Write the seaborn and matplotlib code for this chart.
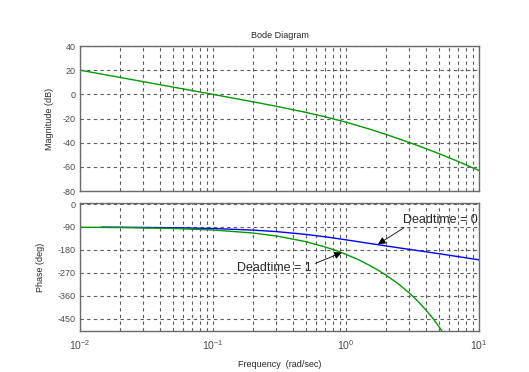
import numpy as np
import pandas as pd
import matplotlib
matplotlib.use("Agg")
import matplotlib.pyplot as plt
import seaborn as sns
from matplotlib.ticker import LogLocator, FixedLocator, NullFormatter

sns.set_style("white")
plt.rcParams['font.family'] = ['Liberation Sans', 'DejaVu Sans']
plt.rcParams['mathtext.default'] = 'regular'

# ---- data ----
freq = [0.01, 0.02, 0.05, 0.1, 0.2, 0.3, 0.5, 0.7, 1.0, 1.5, 2.0, 3.0, 4.0, 5.0, 7.0, 10.0]
mag_db = [20.0, 13.98, 6.01, -0.04, -6.19, -9.92, -14.95, -18.63, -23.05, -28.74,
          -33.18, -39.91, -44.98, -49.10, -55.62, -63.05]

freq_dt0 = [0.0145, 0.02, 0.05, 0.1, 0.2, 0.3, 0.5, 0.7, 1.0, 1.5, 2.0, 3.0, 4.0, 5.0, 7.0, 10.0]
phase_dt0 = [-90.9, -91.26, -93.15, -96.28, -102.46, -108.42, -119.43, -128.99, -140.71,
             -154.84, -164.74, -178.27, -187.76, -195.26, -206.86, -219.29]

freq_dt1 = [0.01, 0.02, 0.05, 0.1, 0.2, 0.3, 0.5, 0.7, 0.85, 1.0, 1.25, 1.5, 1.75, 2.0,
            2.5, 3.0, 3.5, 4.0, 4.5, 5.0, 5.5]
phase_dt1 = [-91.20, -92.41, -96.01, -102.01, -113.92, -125.61, -148.08, -169.10, -183.5,
             -198.01, -219.6, -240.78, -260.4, -279.33, -315.48, -350.16, -383.88,
             -416.94, -449.53, -481.74, -513.64]

mag_ticks = [-80, -60, -40, -20, 0, 20, 40]
phase_ticks = [-450, -360, -270, -180, -90, 0]

df_mag = pd.DataFrame({"freq": freq, "mag": mag_db})
df_p0 = pd.DataFrame({"freq": freq_dt0, "phase": phase_dt0})
df_p1 = pd.DataFrame({"freq": freq_dt1, "phase": phase_dt1})

green = '#009a00'
blue = '#0000ff'
grid_col = '#5a5a5a'
spine_col = '#6a6a6a'
tick_col = '#4a4a4a'

fig = plt.figure(figsize=(5.29, 3.72), dpi=100)
ax1 = fig.add_axes([80/529, 1-191/372, 399/529, 145/372])
ax2 = fig.add_axes([80/529, 1-331/372, 399/529, 128/372])

sns.lineplot(data=df_mag, x="freq", y="mag", ax=ax1, color=green, lw=1.0)
sns.lineplot(data=df_p0, x="freq", y="phase", ax=ax2, color=blue, lw=1.0)
sns.lineplot(data=df_p1, x="freq", y="phase", ax=ax2, color=green, lw=1.0)

for ax in (ax1, ax2):
    ax.set_xscale('log')
    ax.set_xlim(0.01, 10)
    ax.xaxis.set_major_locator(LogLocator(base=10, numticks=10))
    ax.xaxis.set_minor_locator(LogLocator(base=10, subs=np.arange(2, 10), numticks=20))
    ax.xaxis.set_minor_formatter(NullFormatter())
    ax.grid(True, which='both', axis='x', color=grid_col, linestyle=(0, (3, 3)), lw=0.8)
    ax.grid(True, which='major', axis='y', color=grid_col, linestyle=(0, (3, 3)), lw=0.8)
    for s in ax.spines.values():
        s.set_color(spine_col)
        s.set_linewidth(1.0)
    ax.tick_params(which='both', direction='in', length=3, color=spine_col,
                   labelsize=6.5, labelcolor=tick_col, pad=3)
    ax.tick_params(which='minor', length=0)
    ax.set_xlabel('')

ax1.set_ylim(-80, 40)
ax1.yaxis.set_major_locator(FixedLocator(mag_ticks))
ax1.set_yticklabels([str(t) for t in mag_ticks])
ax1.set_xticklabels([])
ax1.set_ylabel('Magnitude (dB)', fontsize=6.5, labelpad=6)
ax1.set_title('Bode Diagram', fontsize=6.5, pad=6)

ax2.set_ylim(-499, 4)
ax2.yaxis.set_major_locator(FixedLocator(phase_ticks))
ax2.set_yticklabels([str(t) for t in phase_ticks])
ax2.set_ylabel('Phase (deg)', fontsize=6.5, labelpad=9)
ax2.set_xlabel('Frequency  (rad/sec)', fontsize=6.5, labelpad=6)
ax2.tick_params(axis='x', labelsize=7.5, pad=5)

arrow = dict(arrowstyle='-|>', color='k', lw=0.6, mutation_scale=11,
             shrinkA=0, shrinkB=0)
ax2.annotate('', xy=(1.74, -158), xytext=(2.73, -93), arrowprops=arrow)
ax2.text(2.70, -61, 'Deadtime = 0', fontsize=9, va='center', ha='left')
ax2.annotate('', xy=(0.928, -191), xytext=(0.59, -233), arrowprops=arrow)
ax2.text(0.152, -250, 'Deadtime = 1', fontsize=9, va='center', ha='left')

fig.savefig('out.png', dpi=100, facecolor='white')
